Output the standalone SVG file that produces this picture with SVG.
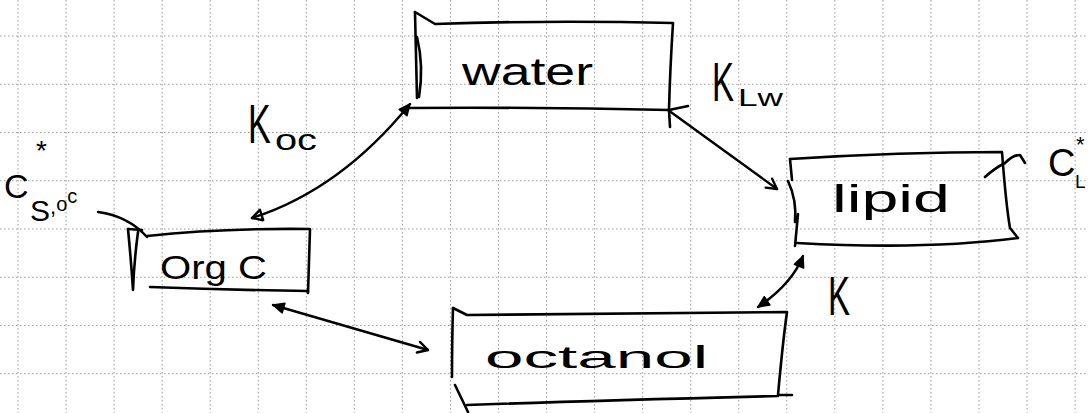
<svg xmlns="http://www.w3.org/2000/svg" width="1088" height="413" viewBox="0 0 1088 413">
<style>
.grid{fill:none;stroke:#9a9a9a;stroke-width:1;stroke-dasharray:1.5 2.5}
.s{fill:none;stroke:#000;stroke-width:2.6;stroke-linecap:round;stroke-linejoin:round}
.c{fill:none;stroke:#000;stroke-width:2.4;stroke-linecap:round;stroke-linejoin:round}
.t{font-family:"Liberation Sans",Arial,sans-serif;fill:#000}
</style>
<defs>
<marker id="av" viewBox="0 0 14 14" refX="12" refY="7" markerWidth="14" markerHeight="14" markerUnits="userSpaceOnUse" orient="auto-start-reverse"><path d="M2,1.5 L12,7 L2,12.5" fill="none" stroke="#000" stroke-width="2.4" stroke-linecap="round" stroke-linejoin="round"/></marker>
<marker id="af" viewBox="0 0 14 14" refX="12" refY="7" markerWidth="14" markerHeight="14" markerUnits="userSpaceOnUse" orient="auto-start-reverse"><path d="M1,2 L12,7 L1,12 z" fill="#000" stroke="#000" stroke-width="1.5" stroke-linejoin="round"/></marker>
<marker id="ao" viewBox="0 0 14 14" refX="12" refY="7" markerWidth="14" markerHeight="14" markerUnits="userSpaceOnUse" orient="auto-start-reverse"><path d="M2,1.5 L12,7 L2,12.5 z" fill="none" stroke="#000" stroke-width="2.4" stroke-linejoin="round"/></marker>
</defs>
<rect width="1088" height="413" fill="#fff"/>
<path class="grid" d="M18 0V413M66.05 0V413M114.1 0V413M162.15 0V413M210.2 0V413M258.25 0V413M306.3 0V413M354.35 0V413M402.4 0V413M450.45 0V413M498.5 0V413M546.55 0V413M594.6 0V413M642.65 0V413M690.7 0V413M738.75 0V413M786.8 0V413M834.85 0V413M882.9 0V413M930.95 0V413M979 0V413M1027.05 0V413M1075.1 0V413M0 36H1088M0 84.25H1088M0 132.5H1088M0 180.75H1088M0 229H1088M0 277.25H1088M0 325.5H1088M0 373.75H1088"/>

<g id="water">
<path class="s" d="M415,12 L435,24 Q550,20 673,23 Q670,70 669,110 L670,127"/>
<path class="s" d="M405,108 Q540,107 669,110 L688,106"/>
<path class="s" d="M415,12 Q416,55 417,98"/>
<path class="s" d="M417,37 Q424,66 419,97"/>
<text class="t" x="462" y="85" font-size="38" textLength="131" lengthAdjust="spacingAndGlyphs">water</text>
</g>

<g id="orgC">
<path class="s" d="M128,229 L142,230 M147,236 Q220,228 310,229 Q309,262 308,293"/>
<path class="s" d="M308,291 Q230,290 150,287"/>
<path class="s" d="M128,229 Q131,260 133,290 M138,232 Q134,262 133,290"/>
<text class="t" x="160" y="279" font-size="33" textLength="107" lengthAdjust="spacingAndGlyphs">Org C</text>
</g>

<g id="lipid">
<path class="s" d="M790,159 Q900,152 1002,152 Q1006,205 1010,228 L1018,238 Q927,250 797,243"/>
<path class="s" d="M790,159 L792,180 M788,181 Q797,200 795,222 M798,214 L795,246"/>
<path class="s" d="M985,177 Q995,168 1005,163 Q1013,155 1020,155 L1025,163"/>
<text class="t" x="832" y="212" font-size="38" textLength="118" lengthAdjust="spacingAndGlyphs">lipid</text>
</g>

<g id="octanol">
<path class="s" d="M453,308 L467,315 Q613,313 787,312 Q783,340 778,395 L792,395 M778,396 Q580,401 467,405"/>
<path class="s" d="M453,308 Q452,340 452,377 M455,385 L468,412"/>
<text class="t" x="485" y="368" font-size="32" textLength="223" lengthAdjust="spacingAndGlyphs">octanol</text>
</g>

<g id="labels">
<text class="t" x="4" y="198" font-size="34">C<tspan x="36" y="160" font-size="28">*</tspan><tspan x="30" y="221" font-size="30">S</tspan><tspan font-size="22" y="214">,</tspan><tspan font-size="20" y="211">o</tspan><tspan font-size="20" y="203">c</tspan></text>
<path class="c" d="M98,212 Q128,216 147,237"/>
<text class="t" transform="translate(248,143) scale(0.62,1)" font-size="55">K</text>
<text class="t" x="275" y="150" font-size="30" textLength="42" lengthAdjust="spacingAndGlyphs">oc</text>
<text class="t" transform="translate(712,101) scale(0.6,1)" font-size="55">K</text>
<text class="t" x="738" y="106" font-size="24" textLength="45" lengthAdjust="spacingAndGlyphs">Lw</text>
<text class="t" transform="translate(828,315) scale(0.6,1)" font-size="55">K</text>
<text class="t" x="1048" y="176" font-size="38">C</text>
<text class="t" x="1076" y="152" font-size="22">*</text>
<text class="t" x="1075" y="188" font-size="19">L</text>
</g>

<g id="connectors">
<path class="c" d="M252,218 Q340,190 410,104" marker-start="url(#ao)" marker-end="url(#af)"/>
<path class="c" d="M668,110 L777,189" marker-end="url(#av)"/>
<path class="c" d="M803,256 Q792,284 758,307" marker-start="url(#af)" marker-end="url(#af)"/>
<path class="c" d="M273,305 L428,350" marker-start="url(#af)" marker-end="url(#av)"/>
</g>
</svg>
